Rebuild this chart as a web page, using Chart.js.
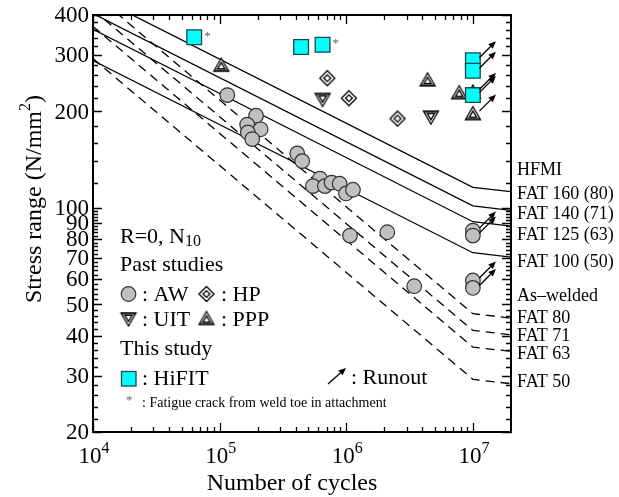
<!DOCTYPE html>
<html>
<head>
<meta charset="utf-8">
<script src="https://cdn.jsdelivr.net/npm/chart.js@4.4.1/dist/chart.umd.min.js"></script>
<style>
  html, body { margin: 0; padding: 0; background: #fff; }
  #wrap { width: 619px; height: 497px; }
</style>
</head>
<body>
<div id="wrap"><canvas id="sn" width="619" height="497"></canvas></div>
<script>
// ---- Test data: stress range (N/mm2) against number of cycles ----
// Past studies, as-welded (AW)
const awCycles = [1.15e5, 1.94e5, 1.65e5, 2.11e5, 1.67e5, 1.81e5, 4.1e5, 4.49e5, 6.2e5, 5.45e5, 6.78e5,
                  7.66e5, 8.87e5, 9.95e5, 1.13e6, 1.07e6, 2.11e6, 3.44e6, 1e7, 1e7, 1e7, 1e7];
const awStress = [225, 194, 182, 176, 172, 164, 148, 140, 123.5, 117, 117,
                  120, 119, 111, 114, 82, 84, 57, 85, 82, 59.4, 56.3];
const awRunout = [0, 0, 0, 0, 0, 0, 0, 0, 0, 0, 0, 0, 0, 0, 0, 0, 0, 0, 1, 1, 1, 1];

// Past studies, hammer peening (HP)
const hpCycles = [7.08e5, 1.05e6, 2.54e6];
const hpStress = [254, 220, 190];

// Past studies, ultrasonic impact treatment (UIT)
const uitCycles = [6.5e5, 4.66e6];
const uitStress = [218, 192];

// Past studies, pneumatic impact peening (PPP)
const pppCycles = [1.03e5, 4.39e6, 7.8e6, 1e7, 1e7];
const pppStress = [279, 251, 229, 197, 230];
const pppRunout = [0, 0, 0, 1, 1];

// This study, HiFIT
const hifitCycles = [6.3e4, 4.4e5, 6.5e5, 1e7, 1e7, 1e7];
const hifitStress = [341, 318, 323, 289, 268, 225];
const hifitRunout = [0, 0, 0, 1, 1, 1];
const hifitToeCrack = [1, 0, 1, 0, 0, 0];

// ---- Design curves (IIW): stress at 1e4, at the knee 1e7 and at 2e7 cycles ----
const curveCycles = [1e4, 1e7, 2e7];
const fat160 = [461.7, 116.0, 112.4];
const fat140 = [404.0, 101.5, 98.3];
const fat125 = [360.7, 90.6, 87.8];
const fat100 = [288.5, 72.5, 70.2];
const fat80 = [467.8, 46.8, 45.3];
const fat71 = [415.2, 41.5, 40.2];
const fat63 = [368.4, 36.8, 35.7];
const fat50 = [292.4, 29.2, 28.3];

// Axis ticks
const xMajorTicks = [1e4, 1e5, 1e6, 1e7];
const xTickExponents = ['4', '5', '6', '7'];
const yTickLabels = [400, 300, 200, 100, 90, 80, 70, 60, 50, 40, 30, 20];

// Labels at the right of the curves
const curveLabels = ['HFMI', 'FAT 160 (80)', 'FAT 140 (71)', 'FAT 125 (63)', 'FAT 100 (50)',
                     'As\u2013welded', 'FAT 80', 'FAT 71', 'FAT 63', 'FAT 50'];
const curveLabelY = [170, 194, 214, 235, 262, 296, 318, 336, 354, 382];

const SERIF = '"Liberation Serif", "Times New Roman", serif';

function pts(xs, ys) { return xs.map((v, i) => ({ x: v, y: ys[i] })); }

// ---- Marker glyphs ----
function makeMarker(draw) {
  const c = document.createElement('canvas');
  c.width = 20; c.height = 20;
  const g = c.getContext('2d');
  draw(g, 10, 10);
  return c;
}
function poly(g, p) {
  g.beginPath(); g.moveTo(p[0][0], p[0][1]);
  for (let i = 1; i < p.length; i++) g.lineTo(p[i][0], p[i][1]);
  g.closePath();
}
const diamondMark = makeMarker((g, cx, cy) => {
  g.lineWidth = 1.3; g.strokeStyle = '#000'; g.fillStyle = '#fff';
  poly(g, [[cx, cy - 7.5], [cx + 7.5, cy], [cx, cy + 7.5], [cx - 7.5, cy]]); g.fill(); g.stroke();
  poly(g, [[cx, cy - 3.4], [cx + 3.4, cy], [cx, cy + 3.4], [cx - 3.4, cy]]); g.stroke();
});
function triangleDraw(g, cx, cy, dir) {
  // dir = 1 for apex up, -1 for apex down
  const s = dir;
  g.lineWidth = 1.3; g.strokeStyle = '#000'; g.fillStyle = '#fff';
  const outer = [[cx, cy - 7 * s], [cx + 7.5, cy + 6 * s], [cx - 7.5, cy + 6 * s]];
  poly(g, outer); g.fill();
  // grey band along the base
  g.fillStyle = '#7a7a7a';
  poly(g, [[cx - 7.5, cy + 6 * s], [cx + 7.5, cy + 6 * s], [cx + 6.2, cy + 3.8 * s], [cx - 6.2, cy + 3.8 * s]]);
  g.fill();
  poly(g, outer); g.stroke();
  g.fillStyle = '#fff';
  poly(g, [[cx, cy - 2.6 * s], [cx + 3.6, cy + 3.6 * s], [cx - 3.6, cy + 3.6 * s]]); g.fill(); g.stroke();
}
const pppMark = makeMarker((g, cx, cy) => triangleDraw(g, cx, cy, 1));
const uitMark = makeMarker((g, cx, cy) => triangleDraw(g, cx, cy, -1));

function scatterSet(label, data, extra, order) {
  return Object.assign({ type: 'scatter', label, data, order, pointHoverRadius: 0 }, extra);
}
function curveSet(label, ys, dashed) {
  return {
    type: 'line', label, data: pts(curveCycles, ys), order: 20,
    borderColor: '#000', borderWidth: 1.3, pointRadius: 0, tension: 0, fill: false,
    borderDash: dashed ? [9, 6] : []
  };
}

const circleStyle = { pointStyle: 'circle', pointRadius: 7.3, backgroundColor: '#c0c0c0', borderColor: '#333', borderWidth: 1.2 };
const squareStyle = { pointStyle: 'rect', pointRadius: 10.4, backgroundColor: '#00ffff', borderColor: '#1e4646', borderWidth: 1.3 };

const datasets = [
  scatterSet('HiFIT', pts(hifitCycles, hifitStress), squareStyle, 0),
  scatterSet('AW', pts(awCycles, awStress), circleStyle, 1),
  scatterSet('HP', pts(hpCycles, hpStress), { pointStyle: diamondMark, pointRadius: 8 }, 2),
  scatterSet('UIT', pts(uitCycles, uitStress), { pointStyle: uitMark, pointRadius: 8 }, 3),
  scatterSet('PPP', pts(pppCycles, pppStress), { pointStyle: pppMark, pointRadius: 8 }, 4),
  curveSet('FAT 160 (80)', fat160, false),
  curveSet('FAT 140 (71)', fat140, false),
  curveSet('FAT 125 (63)', fat125, false),
  curveSet('FAT 100 (50)', fat100, false),
  curveSet('FAT 80', fat80, true),
  curveSet('FAT 71', fat71, true),
  curveSet('FAT 63', fat63, true),
  curveSet('FAT 50', fat50, true)
];

// ---- Drawing helpers ----
function arrow(ctx, x0, y0, x1, y1) {
  const ang = Math.atan2(y1 - y0, x1 - x0), hl = 7.5, hw = 3.2;
  ctx.beginPath(); ctx.moveTo(x0, y0);
  ctx.lineTo(x1 - hl * Math.cos(ang), y1 - hl * Math.sin(ang)); ctx.stroke();
  ctx.beginPath(); ctx.moveTo(x1, y1);
  ctx.lineTo(x1 - hl * Math.cos(ang) + hw * Math.sin(ang), y1 - hl * Math.sin(ang) - hw * Math.cos(ang));
  ctx.lineTo(x1 - hl * Math.cos(ang) - hw * Math.sin(ang), y1 - hl * Math.sin(ang) + hw * Math.cos(ang));
  ctx.closePath(); ctx.fill();
}
function supText(ctx, base, sup, x, y, size, supSize, align) {
  ctx.font = size + 'px ' + SERIF;
  const wb = ctx.measureText(base).width;
  ctx.font = supSize + 'px ' + SERIF;
  const ws = ctx.measureText(sup).width;
  let sx = x;
  if (align === 'center') sx = x - (wb + ws) / 2;
  ctx.textAlign = 'left'; ctx.textBaseline = 'alphabetic';
  ctx.font = size + 'px ' + SERIF; ctx.fillText(base, sx, y);
  ctx.font = supSize + 'px ' + SERIF; ctx.fillText(sup, sx + wb, y - size * 0.45);
  return wb + ws;
}

const decorations = {
  id: 'decorations',
  afterDatasetsDraw(chart) {
    const { ctx, chartArea: a, scales: { x, y } } = chart;
    ctx.save();
    ctx.fillStyle = '#000'; ctx.strokeStyle = '#000';

    // runout arrows
    ctx.lineWidth = 1.3;
    const runouts = [];
    awCycles.forEach((n, i) => { if (awRunout[i]) runouts.push([n, awStress[i]]); });
    pppCycles.forEach((n, i) => { if (pppRunout[i]) runouts.push([n, pppStress[i]]); });
    hifitCycles.forEach((n, i) => { if (hifitRunout[i]) runouts.push([n, hifitStress[i]]); });
    runouts.forEach(([n, s]) => {
      const px = x.getPixelForValue(n), py = y.getPixelForValue(s);
      arrow(ctx, px + 6.5, py - 2.5, px + 23, py - 19);
    });

    // crack-origin marks
    ctx.fillStyle = '#666'; ctx.font = '13px ' + SERIF;
    ctx.textAlign = 'left'; ctx.textBaseline = 'middle';
    hifitCycles.forEach((n, i) => {
      if (!hifitToeCrack[i]) return;
      ctx.fillText('*', x.getPixelForValue(n) + 10, y.getPixelForValue(hifitStress[i]) - 1);
    });
    ctx.fillStyle = '#000';

    // frame
    ctx.lineWidth = 2;
    ctx.strokeRect(a.left, a.top, a.right - a.left, a.bottom - a.top);

    // x ticks (inside, bottom and top)
    ctx.lineWidth = 1.3;
    ctx.beginPath();
    xMajorTicks.forEach(v => {
      const px = Math.round(x.getPixelForValue(v)) + 0.5;
      ctx.moveTo(px, a.bottom); ctx.lineTo(px, a.bottom - 9);
      ctx.moveTo(px, a.top); ctx.lineTo(px, a.top + 9);
      if (v < 1e7) {
        for (let k = 2; k <= 9; k++) {
          const m = Math.round(x.getPixelForValue(v * k)) + 0.5;
          ctx.moveTo(m, a.bottom); ctx.lineTo(m, a.bottom - 5);
          ctx.moveTo(m, a.top); ctx.lineTo(m, a.top + 5);
        }
      }
    });
    // y ticks (inside, left and right)
    const yTick = (v, len) => {
      const py = Math.round(y.getPixelForValue(v)) + 0.5;
      ctx.moveTo(a.left, py); ctx.lineTo(a.left + len, py);
      ctx.moveTo(a.right, py); ctx.lineTo(a.right - len, py);
    };
    yTickLabels.forEach(v => yTick(v, 9));
    for (let v = 22; v < 100; v += 2) if (v % 10) yTick(v, 5);
    for (let v = 120; v < 400; v += 20) if (v % 100) yTick(v, 5);
    ctx.stroke();

    // y tick labels
    ctx.font = '23px ' + SERIF; ctx.textAlign = 'right'; ctx.textBaseline = 'middle';
    yTickLabels.forEach(v => ctx.fillText(String(v), a.left - 4, y.getPixelForValue(v) + 1));

    // x tick labels: powers of ten
    xMajorTicks.forEach((v, i) => supText(ctx, '10', xTickExponents[i], x.getPixelForValue(v) + 1, 463, 23, 16, 'center'));

    // axis titles
    ctx.font = '24px ' + SERIF; ctx.textAlign = 'center'; ctx.textBaseline = 'alphabetic';
    ctx.fillText('Number of cycles', (a.left + a.right) / 2 - 10, 490);
    ctx.save();
    ctx.translate(41, 199); ctx.rotate(-Math.PI / 2);
    ctx.font = '24px ' + SERIF;
    const t1 = 'Stress range (N/mm', t2 = '2', t3 = ')';
    const w1 = ctx.measureText(t1).width, w3 = ctx.measureText(t3).width;
    ctx.font = '16px ' + SERIF; const w2 = ctx.measureText(t2).width;
    let sx = -(w1 + w2 + w3) / 2;
    ctx.textAlign = 'left';
    ctx.font = '24px ' + SERIF; ctx.fillText(t1, sx, 0);
    ctx.font = '16px ' + SERIF; ctx.fillText(t2, sx + w1, -11);
    ctx.font = '24px ' + SERIF; ctx.fillText(t3, sx + w1 + w2, 0);
    ctx.restore();

    // curve labels on the right
    ctx.font = '18px ' + SERIF; ctx.textAlign = 'left'; ctx.textBaseline = 'middle';
    curveLabels.forEach((t, i) => ctx.fillText(t, a.right + 6, curveLabelY[i]));

    // legend block
    ctx.textBaseline = 'middle';
    ctx.font = '22px ' + SERIF;
    ctx.fillText('R=0, N', 120, 237);
    const wN = ctx.measureText('R=0, N').width;
    ctx.font = '16px ' + SERIF; ctx.fillText('10', 120 + wN, 242);
    ctx.font = '22px ' + SERIF;
    ctx.fillText('Past studies', 120, 265);
    // circle
    ctx.beginPath(); ctx.arc(128.5, 294, 7.3, 0, Math.PI * 2);
    ctx.fillStyle = '#c0c0c0'; ctx.fill(); ctx.lineWidth = 1.2; ctx.strokeStyle = '#333'; ctx.stroke();
    ctx.fillStyle = '#000'; ctx.strokeStyle = '#000';
    ctx.fillText(': AW', 142, 295);
    ctx.drawImage(diamondMark, 206.5 - 10, 294 - 10);
    ctx.fillText(': HP', 221, 295);
    ctx.drawImage(uitMark, 128.5 - 10, 319 - 10);
    ctx.fillText(': UIT', 142, 320);
    ctx.drawImage(pppMark, 206.5 - 10, 318.5 - 10);
    ctx.fillText(': PPP', 221, 320);
    ctx.fillText('This study', 120, 349);
    ctx.fillStyle = '#00ffff'; ctx.fillRect(121.5, 371.5, 14.5, 14.5);
    ctx.strokeStyle = '#1e4646'; ctx.lineWidth = 1.3; ctx.strokeRect(121.5, 371.5, 14.5, 14.5);
    ctx.fillStyle = '#000'; ctx.strokeStyle = '#000';
    ctx.fillText(': HiFIT', 142, 379);
    // runout key
    ctx.lineWidth = 1.3;
    arrow(ctx, 328, 384, 346, 368);
    ctx.fillText(': Runout', 351, 378);
    // crack-origin key
    ctx.fillStyle = '#666'; ctx.font = '13px ' + SERIF;
    ctx.fillText('*', 126, 401);
    ctx.fillStyle = '#000'; ctx.font = '14px ' + SERIF;
    ctx.fillText(': Fatigue crack from weld toe in attachment', 142, 403);

    ctx.restore();
  }
};

Chart.defaults.font.family = SERIF;
new Chart(document.getElementById('sn'), {
  data: { datasets },
  options: {
    responsive: false,
    animation: false,
    devicePixelRatio: 1,
    layout: { padding: { left: 93, top: 15, right: 108, bottom: 65 } },
    plugins: { legend: { display: false }, tooltip: { enabled: false } },
    events: [],
    scales: {
      x: { type: 'logarithmic', min: 1e4, max: 2e7, display: false },
      y: { type: 'logarithmic', min: 20, max: 400, display: false }
    }
  },
  plugins: [decorations]
});
</script>
</body>
</html>
